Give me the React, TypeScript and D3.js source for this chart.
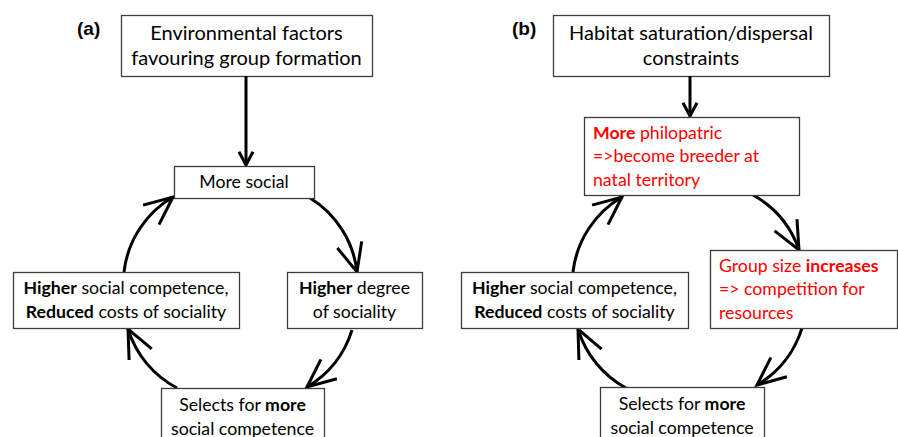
import React from "react";
import * as d3 from "d3";

// Text content (bold parts wrapped in **)
const PANEL_LABELS = ["(a)", "(b)"];
const TOP_A = ["Environmental factors", "favouring group formation"];
const TOP_B = ["Habitat saturation/dispersal", "constraints"];
const CYCLE_A = [
  ["More social"],
  ["**Higher** degree", "of sociality"],
  ["Selects for **more**", "social competence"],
  ["**Higher** social competence,", "**Reduced** costs of sociality"],
];
const CYCLE_B = [
  ["**More** philopatric", "=>become breeder at", "natal territory"],
  ["Group size **increases**", "=> competition for", "resources"],
  ["Selects for **more**", "social competence"],
  ["**Higher** social competence,", "**Reduced** costs of sociality"],
];
// which cycle boxes are highlighted in red
const RED_A = [false, false, false, false];
const RED_B = [true, true, false, false];

// Layout
const W = 898;
const H = 437;
const FONT = "Lato, 'Open Sans', sans-serif";
const RED = "#ff0000";
const BOX_STROKE = "#3c3c3c";

type Box = { x: number; y: number; w: number; h: number; left?: boolean };

const LAYOUT_A = {
  label: [77, 35],
  top: { x: 121, y: 15, w: 251, h: 61 } as Box,
  drop: [246, 76, 165],
  boxes: [
    { x: 174, y: 166, w: 140, h: 32 },
    { x: 287, y: 272, w: 135, h: 56 },
    { x: 161, y: 388, w: 163, h: 58 },
    { x: 13, y: 272, w: 226, h: 56 },
  ] as Box[],
  arcs: [
    [124, 272, 173, 197],
    [310, 198, 357, 272],
    [352, 330, 307, 387],
    [177, 388, 128, 329],
  ],
};

const LAYOUT_B = {
  label: [512, 35],
  top: { x: 553, y: 15, w: 276, h: 61 } as Box,
  drop: [690, 76, 116],
  boxes: [
    { x: 584, y: 117, w: 215, h: 78, left: true },
    { x: 710, y: 250, w: 187, h: 78, left: true },
    { x: 600, y: 387, w: 164, h: 58 },
    { x: 461, y: 272, w: 227, h: 56 },
  ] as Box[],
  arcs: [
    [573, 272, 622, 197],
    [753, 195, 799, 250],
    [802, 328, 757, 385],
    [626, 388, 578, 329],
  ],
};

const ARC_R = 100;
const HEAD_LEN = 31;
const HEAD_ANG = (24 * Math.PI) / 180;

function parseRich(line: string) {
  return line.split("**").map((t, i) => ({ t, b: i % 2 === 1 })).filter((s) => s.t.length);
}

function headPath(x: number, y: number, phi: number, L: number, a: number) {
  const p = d3.path();
  p.moveTo(x - L * Math.cos(phi - a), y - L * Math.sin(phi - a));
  p.lineTo(x, y);
  p.lineTo(x - L * Math.cos(phi + a), y - L * Math.sin(phi + a));
  return p.toString();
}

// clockwise circular arc from (x0,y0) to (x1,y1) plus an open arrowhead at the end
function arcGeom(x0: number, y0: number, x1: number, y1: number, r: number) {
  const dx = x1 - x0, dy = y1 - y0;
  const len = Math.hypot(dx, dy);
  const ux = dx / len, uy = dy / len;
  const h = Math.sqrt(Math.max(r * r - (len / 2) ** 2, 0));
  const cx = (x0 + x1) / 2 - uy * h;
  const cy = (y0 + y1) / 2 + ux * h;
  const a0 = Math.atan2(y0 - cy, x0 - cx);
  const a1 = Math.atan2(y1 - cy, x1 - cx);
  const p = d3.path();
  p.arc(cx, cy, r, a0, a1, false);
  // direction from a point HEAD_LEN back along the arc to the tip
  const te = a1 - HEAD_LEN / r;
  const bx = cx + r * Math.cos(te), by = cy + r * Math.sin(te);
  const phi = Math.atan2(y1 - by, x1 - bx);
  return { d: p.toString(), head: headPath(x1, y1, phi, HEAD_LEN, HEAD_ANG) };
}

function TextBox({ box, lines, size, spacing, color }: { box: Box; lines: string[]; size: number; spacing: number; color: string }) {
  const cy = box.y + box.h / 2;
  const first = cy - ((lines.length - 1) * spacing) / 2;
  return (
    <g>
      <rect x={box.x + 0.5} y={box.y + 0.5} width={box.w} height={box.h} fill="#fff" stroke={BOX_STROKE} strokeWidth={1.3} />
      {lines.map((ln, i) => (
        <text
          key={i}
          x={box.left ? box.x + 9 : box.x + box.w / 2}
          y={first + i * spacing + size * 0.35}
          textAnchor={box.left ? "start" : "middle"}
          fontFamily={FONT}
          fontSize={size}
          fill={color}
        >
          {parseRich(ln).map((s, j) => (
            <tspan key={j} fontWeight={s.b ? "bold" : "normal"}>{s.t}</tspan>
          ))}
        </text>
      ))}
    </g>
  );
}

function Panel({ layout, label, top, cycle, red }: { layout: typeof LAYOUT_A; label: string; top: string[]; cycle: string[][]; red: boolean[] }) {
  const [dx, dy0, dy1] = layout.drop;
  return (
    <g>
      <text x={layout.label[0]} y={layout.label[1]} fontFamily="'Liberation Sans', Arial, sans-serif" fontWeight="bold" fontSize={19}>
        {label}
      </text>
      <TextBox box={layout.top} lines={top} size={20} spacing={25.5} color="#000" />
      <line x1={dx} y1={dy0} x2={dx} y2={dy1 - 1} stroke="#000" strokeWidth={3} />
      <path d={headPath(dx, dy1, Math.PI / 2, 15, (28 * Math.PI) / 180)} fill="none" stroke="#000" strokeWidth={3} />
      {layout.arcs.map((a, i) => {
        const g = arcGeom(a[0], a[1], a[2], a[3], ARC_R);
        return (
          <g key={i}>
            <path d={g.d} fill="none" stroke="#000" strokeWidth={3} />
            <path d={g.head} fill="none" stroke="#000" strokeWidth={3} />
          </g>
        );
      })}
      {layout.boxes.map((b, i) => (
        <TextBox key={i} box={b} lines={cycle[i]} size={17.7} spacing={23.5} color={red[i] ? RED : "#000"} />
      ))}
    </g>
  );
}

export default function App() {
  return (
    <svg width={W} height={H} style={{ position: "absolute", left: 0, top: 0, background: "#fff" }}>
      <rect width={W} height={H} fill="#fff" />
      <Panel layout={LAYOUT_A} label={PANEL_LABELS[0]} top={TOP_A} cycle={CYCLE_A} red={RED_A} />
      <Panel layout={LAYOUT_B} label={PANEL_LABELS[1]} top={TOP_B} cycle={CYCLE_B} red={RED_B} />
    </svg>
  );
}
